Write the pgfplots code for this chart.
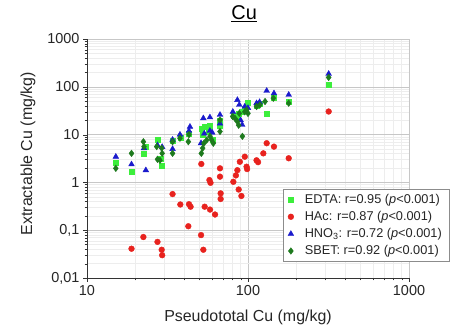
\documentclass[border=0pt]{standalone}
\usepackage{fontspec}
\setmainfont{Liberation Sans}
\usepackage{pgfplots}
\pgfplotsset{compat=1.18}
\definecolor{edta}{HTML}{3CEE3C}
\definecolor{hac}{HTML}{E8221E}
\definecolor{hno}{HTML}{1A1ACC}
\definecolor{sbet}{HTML}{1E7A1E}
\begin{document}
\begin{tikzpicture}
\begin{loglogaxis}[
  scale only axis,
  width=322bp, height=239bp,
  xmin=10, xmax=1000, ymin=0.01, ymax=1000,
  axis x line*=bottom, axis y line*=left,
  axis line style={black!80, line width=0.7pt},
  tick align=outside,
  major tick length=4bp, minor tick length=2.5bp,
  tick style={black!80},
  grid=both,
  major grid style={color=black!22, line width=0.6pt},
  minor grid style={color=black!7, line width=0.4pt},
  xtick={10,100,1000}, xticklabels={10,100,1000},
  ytick={0.01,0.1,1,10,100,1000},
  yticklabels={{0,01},{0,1},1,10,100,1000},
  ticklabel style={font=\fontsize{14.5}{16}\selectfont, text=black!85},
  xlabel={Pseudototal Cu (mg/kg)},
  ylabel={Extractable Cu (mg/kg)},
  label style={font=\fontsize{16}{18}\selectfont, text=black!85},
  xlabel style={at={(axis description cs:0.5,-0.165)}, anchor=center},
  ylabel style={at={(axis description cs:-0.183,0.52)}, anchor=center, rotate=0},
  title={\underline{Cu}},
  title style={at={(axis description cs:0.488,1.08)}, anchor=center, font=\fontsize{20}{22}\selectfont},
  legend style={at={(axis description cs:0.608,0.372)}, anchor=north west,
    draw=black!45, font=\fontsize{12.8}{14}\selectfont, text=black!85,
    cells={anchor=west}, row sep=2.4bp, column sep=9bp, inner ysep=3bp, inner xsep=5bp},
  legend cell align=left,
  clip=false,
]
\addplot[only marks, mark=square*, mark size=2.5bp, color=edta] coordinates {
(15.1,2.6) (18.9,1.67) (22.6,4.05) (23,5.5) (27.4,7.7) (28.5,3.2) (29.3,2.24)
(34,7.5) (38,8.5) (43,10.5) (51.3,13.6) (52,10) (54,14.6) (57,11.6) (58,15.7)
(60,8) (67,15) (67,20) (82,25) (86,22) (88,28) (92,30) (95.5,35) (100,45.4)
(113,40) (118,45) (130.6,27.8) (145,60) (179,48) (317,110)
};
\addlegendentry{EDTA: r=0.95 (\textit{p}<0.001)}
\addplot[only marks, mark=*, mark size=2.9bp, color=hac] coordinates {
(18.9,0.041) (22.4,0.072) (27.4,0.057) (29.1,0.039) (29.3,0.030) (34.0,0.57)
(38.0,0.345) (43.0,0.35) (44.0,0.31) (42.6,0.121) (51.3,2.43) (51.1,0.079)
(52.8,0.039) (53.8,0.31) (58.1,0.27) (62.4,0.213) (57.6,1.12) (58.5,0.98)
(67,1.97) (67,1.32) (67.6,0.59) (67.6,0.45) (81.1,1.03) (84.1,1.4) (85.9,1.8)
(87.5,0.71) (89,2.7) (91,0.52) (95.5,3.45) (98,2.13) (98.7,1.9) (113,2.9)
(115.5,2.65) (124.5,4.05) (130.6,6.6) (145,5.6) (179,3.2) (317,30.4)
};
\addlegendentry{HAc: r=0.87 (\textit{p}<0.001)}
\addplot[only marks, mark=triangle*, mark size=3.3bp, color=hno] coordinates {
(15.1,3.45) (18.9,2.39) (22.6,5.2) (23.2,1.8) (27.4,6) (29.3,5.5) (34,5.0)
(34,7.8) (37.8,10) (43,12) (43.6,14.6) (51.1,6.6) (52.8,22) (53.5,10.5)
(58,23) (58,12) (60,11) (67,25.9) (67,17) (80.5,30) (85.9,53) (88.3,42)
(90,20) (92,16) (95.5,38.6) (100,36) (113,45.4) (118,48) (130.6,82.4)
(145,73) (179,68) (317,187)
};
\addlegendentry{HNO\textsubscript{3}: r=0.72 (\textit{p}<0.001)}
\addplot[only marks, mark=diamond*, mark size=3.3bp, color=sbet] coordinates {
(15.1,1.97) (18.9,4.05) (22.4,7.1) (22.6,5.6) (27.1,5.6) (27.4,3.04) (28.4,2.9)
(29.1,5.2) (29.3,4.05) (34,4.05) (34,7.1) (37.8,8.4) (42.6,7.1) (43,10)
(51.3,4.05) (52.3,5.2) (53.2,6.6) (55.4,7.7) (58.1,9.2) (59.5,7.7) (60.9,6.6)
(67,11.6) (67,20.3) (80.3,24) (82.9,22) (85.9,18.7) (87.5,15.7) (88.3,27.8)
(92.3,9.2) (95.5,30) (98,32.9) (100,27.8) (113,38.6) (118.6,42) (127.6,49.2)
(143.7,57.8) (179,45.4) (317,157)
};
\addlegendentry{SBET: r=0.92 (\textit{p}<0.001)}
\end{loglogaxis}
\pgfresetboundingbox
\path[use as bounding box] (-87bp,-49bp) rectangle (371bp,278bp);
\end{tikzpicture}
\end{document}
